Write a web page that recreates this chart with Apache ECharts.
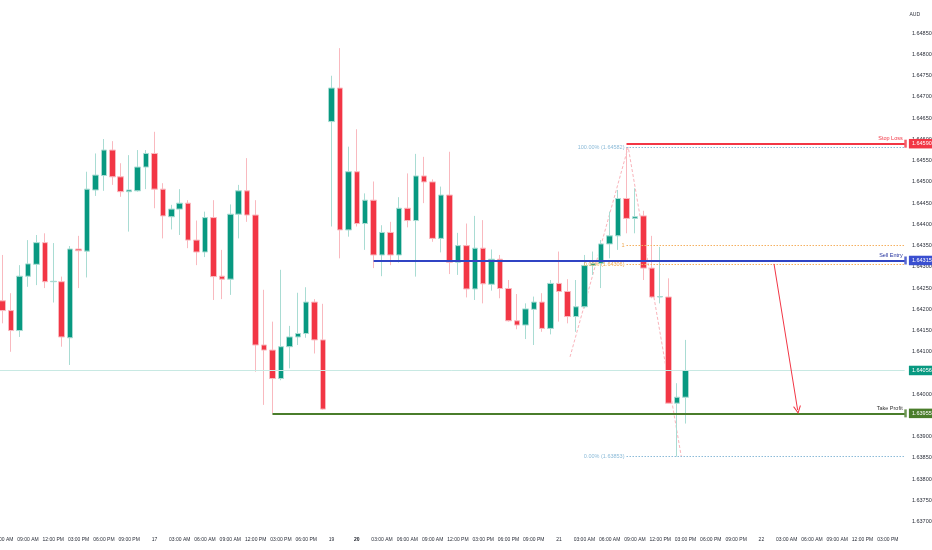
<!DOCTYPE html>
<html>
<head>
<meta charset="utf-8">
<script src="https://cdn.jsdelivr.net/npm/echarts@6/dist/echarts.min.js"></script>
<style>
  html, body { margin: 0; padding: 0; background: #fff; }
  #chart { width: 932px; height: 550px; }
</style>
</head>
<body>
<div id="chart"></div>
<script>
// hourly sessions: [day, first hour, last hour]  (weekend gap between 17 and 19)
const sessions = [[16, 6, 23], [17, 0, 20], [19, 21, 23], [20, 0, 23], [21, 0, 23], [22, 0, 17]]

// AUD hourly candles
const opens = [
    1.64220, 1.64197, 1.64150, 1.64278, 1.64306, 1.64357, 1.64265, 1.64265, 1.64133, 1.64342,
    1.64337, 1.64481, 1.64515, 1.64575, 1.64512, 1.64477, 1.64479, 1.64535, 1.64567, 1.64483,
    1.64418, 1.64436, 1.64450, 1.64363, 1.64335, 1.64416, 1.64278, 1.64271, 1.64424, 1.64479,
    1.64422, 1.64116, 1.64104, 1.64037, 1.64112, 1.64135, 1.64143, 1.64217, 1.64128, 1.64642,
    1.64721, 1.64387, 1.64524, 1.64402, 1.64457, 1.64328, 1.64381, 1.64328, 1.64438, 1.64409,
    1.64514, 1.64500, 1.64367, 1.64469, 1.64311, 1.64350, 1.64248, 1.64344, 1.64259, 1.64318,
    1.64249, 1.64173, 1.64163, 1.64200, 1.64217, 1.64155, 1.64261, 1.64242, 1.64183, 1.64206,
    1.64303, 1.64308, 1.64354, 1.64373, 1.64461, 1.64414, 1.64420, 1.64297, 1.64229, 1.64229,
    1.63979, 1.63993
]
const closes = [
    1.64197, 1.64150, 1.64278, 1.64307, 1.64357, 1.64265, 1.64266, 1.64135, 1.64342, 1.64338,
    1.64483, 1.64516, 1.64575, 1.64512, 1.64477, 1.64481, 1.64535, 1.64567, 1.64483, 1.64420,
    1.64436, 1.64450, 1.64363, 1.64335, 1.64416, 1.64277, 1.64271, 1.64424, 1.64479, 1.64422,
    1.64116, 1.64104, 1.64037, 1.64112, 1.64135, 1.64143, 1.64217, 1.64128, 1.63965, 1.64721,
    1.64387, 1.64524, 1.64402, 1.64457, 1.64328, 1.64381, 1.64328, 1.64438, 1.64409, 1.64514,
    1.64500, 1.64367, 1.64469, 1.64311, 1.64350, 1.64248, 1.64344, 1.64260, 1.64318, 1.64249,
    1.64173, 1.64163, 1.64201, 1.64217, 1.64155, 1.64261, 1.64242, 1.64183, 1.64206, 1.64303,
    1.64308, 1.64354, 1.64373, 1.64461, 1.64414, 1.64418, 1.64297, 1.64229, 1.64230, 1.63979,
    1.63993, 1.64056
]
const lows = [
    1.64167, 1.64100, 1.64135, 1.64253, 1.64257, 1.64250, 1.64216, 1.64112, 1.64069, 1.64250,
    1.64275, 1.64467, 1.64479, 1.64493, 1.64465, 1.64383, 1.64477, 1.64483, 1.64438, 1.64367,
    1.64388, 1.64375, 1.64344, 1.64304, 1.64323, 1.64222, 1.64224, 1.64234, 1.64367, 1.64406,
    1.64053, 1.63975, 1.63955, 1.64033, 1.64061, 1.64116, 1.64133, 1.64096, 1.63963, 1.64395,
    1.64320, 1.64371, 1.64395, 1.64340, 1.64297, 1.64278, 1.64304, 1.64310, 1.64393, 1.64277,
    1.64450, 1.64359, 1.64334, 1.64283, 1.64281, 1.64228, 1.64222, 1.64214, 1.64244, 1.64226,
    1.64171, 1.64153, 1.64130, 1.64116, 1.64147, 1.64141, 1.64171, 1.64167, 1.64147, 1.64202,
    1.64281, 1.64250, 1.64320, 1.64340, 1.64379, 1.64379, 1.64269, 1.64226, 1.64214, 1.63978,
    1.63853, 1.63931
]
const highs = [
    1.64328, 1.64238, 1.64304, 1.64363, 1.64375, 1.64379, 1.64356, 1.64277, 1.64349, 1.64373,
    1.64524, 1.64567, 1.64601, 1.64596, 1.64544, 1.64563, 1.64575, 1.64575, 1.64618, 1.64497,
    1.64446, 1.64483, 1.64457, 1.64409, 1.64430, 1.64457, 1.64340, 1.64447, 1.64493, 1.64556,
    1.64457, 1.64246, 1.64171, 1.64293, 1.64161, 1.64239, 1.64252, 1.64224, 1.64213, 1.64750,
    1.64815, 1.64583, 1.64624, 1.64473, 1.64501, 1.64398, 1.64406, 1.64464, 1.64520, 1.64566,
    1.64559, 1.64506, 1.64489, 1.64571, 1.64380, 1.64402, 1.64420, 1.64410, 1.64341, 1.64328,
    1.64269, 1.64236, 1.64214, 1.64230, 1.64238, 1.64269, 1.64336, 1.64271, 1.64269, 1.64328,
    1.64336, 1.64363, 1.64430, 1.64481, 1.64582, 1.64485, 1.64432, 1.64373, 1.64347, 1.64273,
    1.64026, 1.64128
]

// trade levels
const lastPrice = 1.64056
const stopLoss = 1.64590
const sellEntry = 1.64315
const takeProfit = 1.63955
// fib levels [price, text]
const fibBlue = [[1.64582, '100.00% (1.64582)'], [1.63853, '0.00% (1.63853)']]
const fibOrange = [[1.64350, '1'], [1.64306, '0.00% (1.64306)']]
// drawings, x in candle index
const zigzag = [[67.3, 1.64088], [74.2, 1.64582], [80.5, 1.63853]]
const arrow = [[91.5, 1.64307], [94.3, 1.63963]]

const font = '"Liberation Sans Narrow", "Liberation Sans", Arial, sans-serif'
const up = '#089981'
const down = '#f23645'
const blue = '#3044c4'
const green = '#4a7d2b'

const categories = []
const tickText = []
sessions.forEach(function(s, si) {
    for (let h = s[1]; h <= s[2]; h++) {
        categories.push(s[0] + ' ' + h)
        let t = ''
        if (h === 0 || (h === s[1] && si > 0)) {
            t = s[0] === 20 ? '{b|' + s[0] + '}' : String(s[0])
        } else if (h % 3 === 0) {
            let hh = h % 12 === 0 ? 12 : h % 12
            t = (hh < 10 ? '0' : '') + hh + ':00 ' + (h < 12 ? 'AM' : 'PM')
        }
        tickText.push(t)
    }
})
const lastIdx = categories.length - 1

const candles = opens.map(function(o, i) {
    return [o, closes[i], lows[i], highs[i]]
})

function segment(price, from, color, width, type) {
    return [
        { coord: [from, price], lineStyle: { color: color, width: width, type: type } },
        { coord: [lastIdx, price] }
    ]
}

// price tag on the right axis
function tag(price, color) {
    return [
        {
            coord: [lastIdx + 0.3, price],
            lineStyle: { color: 'rgba(0,0,0,0)', width: 1 },
            label: {
                show: true,
                position: 'end',
                distance: 0,
                formatter: price.toFixed(5),
                color: '#fff',
                backgroundColor: color,
                fontFamily: font,
                fontSize: 5.5,
                padding: [2, 3, 1.5, 3]
            }
        },
        { coord: [lastIdx + 0.5, price] }
    ]
}

function textLabel(text, color, pos) {
    return { show: true, position: pos, formatter: text, color: color, fontFamily: font, fontSize: 5.5, distance: 2 }
}

const levelLines = [
    segment(lastPrice, -0.5, '#c8e9e3', 1, 'solid'),
    segment(takeProfit, 32, green, 2, 'solid'),
    segment(sellEntry, 44, blue, 2, 'solid'),
    segment(stopLoss, 74, down, 2, 'solid')
]
levelLines[1][0].label = textLabel('Take Profit', '#333', 'insideEndTop')
levelLines[2][0].label = textLabel('Sell Entry', '#25339e', 'insideEndTop')
levelLines[3][0].label = textLabel('Stop Loss', down, 'insideEndTop')

const fibLines = []
fibBlue.forEach(function(f) {
    let s = segment(f[0], 74, '#8cbbd8', 1, [1.5, 1.5])
    s[0].label = textLabel(f[1], '#8cbbd8', 'start')
    fibLines.push(s)
})
fibOrange.forEach(function(f) {
    let s = segment(f[0], 74, '#f5b060', 1, [1.5, 1.5])
    s[0].label = textLabel(f[1], '#f0a850', 'start')
    fibLines.push(s)
})

const tags = [
    tag(lastPrice, up),
    tag(sellEntry, '#3a4fd0'),
    tag(stopLoss, down),
    tag(takeProfit, green)
]

const option = {
    animation: false,
    backgroundColor: '#fff',
    title: {
        text: 'AUD',
        right: 7,
        top: 7,
        textStyle: { fontFamily: font, fontSize: 5, fontWeight: 'normal', color: '#2a2e39' }
    },
    grid: {
        left: -1.5,
        right: 23.1,
        top: -9.2,
        bottom: 7.1,
        outerBoundsMode: 'none',
        containLabel: false
    },
    xAxis: [
        {
            type: 'category',
            data: categories,
            offset: -11,
            axisLine: { show: false },
            axisTick: { show: false },
            splitLine: { show: false },
            axisLabel: {
                interval: function(i) {
                    return tickText[i] !== ''
                },
                formatter: function(v, i) {
                    return tickText[i]
                },
                margin: 5,
                fontFamily: font,
                fontSize: 5,
                color: '#2a2e39',
                rich: { b: { fontFamily: font, fontSize: 5, fontWeight: 'bold', color: '#131722' } }
            }
        },
        {
            type: 'value',
            show: false,
            min: -0.5,
            max: lastIdx + 0.5
        }
    ],
    yAxis: {
        type: 'value',
        position: 'right',
        scale: true,
        min: 1.6365,
        max: 1.6495,
        interval: 0.0005,
        axisLine: { show: false },
        axisTick: { show: false },
        splitLine: { show: false },
        axisLabel: {
            margin: 3,
            fontFamily: font,
            fontSize: 5.5,
            color: '#2a2e39',
            formatter: function(v) {
                return (v > 1.64875 || v < 1.63675) ? '' : v.toFixed(5)
            }
        }
    },
    series: [
        {
            type: 'candlestick',
            data: candles,
            barWidth: 6,
            itemStyle: {
                color: up,
                color0: down,
                borderColor: '#a9dcd3',
                borderColor0: '#f9b9bf',
                borderWidth: 1
            }
        },
        {
            // zigzag drawing
            type: 'line',
            xAxisIndex: 1,
            data: zigzag,
            symbol: 'none',
            silent: true,
            lineStyle: { color: '#f9b4bb', width: 1, type: [3, 2] },
            z: 1
        },
        {
            // horizontal levels
            type: 'line',
            xAxisIndex: 1,
            data: [],
            silent: true,
            markLine: {
                silent: true,
                symbol: ['none', 'none'],
                label: { show: false },
                data: [].concat(fibLines, levelLines)
            }
        },
        {
            // price tags
            type: 'line',
            xAxisIndex: 1,
            data: [],
            silent: true,
            z: 8,
            markLine: {
                silent: true,
                symbol: ['none', 'none'],
                label: { show: false },
                data: tags
            }
        },
        {
            // target arrow
            type: 'line',
            xAxisIndex: 1,
            data: [],
            silent: true,
            markLine: {
                silent: true,
                symbol: ['none', 'path://M5,0 L10,9 L8.6,9 L5,2.5 L1.4,9 L0,9 Z'],
                symbolSize: 8,
                label: { show: false },
                lineStyle: { color: down, width: 1, type: 'solid' },
                data: [[{ coord: arrow[0] }, { coord: arrow[1] }]]
            }
        },
        {
            // line end handles
            type: 'scatter',
            xAxisIndex: 1,
            silent: true,
            symbol: 'rect',
            symbolSize: [2.5, 8],
            data: [
                { value: [lastIdx + 0.1, stopLoss], itemStyle: { color: down } },
                { value: [lastIdx + 0.1, sellEntry], itemStyle: { color: blue } },
                { value: [lastIdx + 0.1, takeProfit], itemStyle: { color: green } }
            ],
            z: 6
        }
    ]
}

var myChart = echarts.init(document.getElementById('chart'))
myChart.setOption(option)
</script>
</body>
</html>
